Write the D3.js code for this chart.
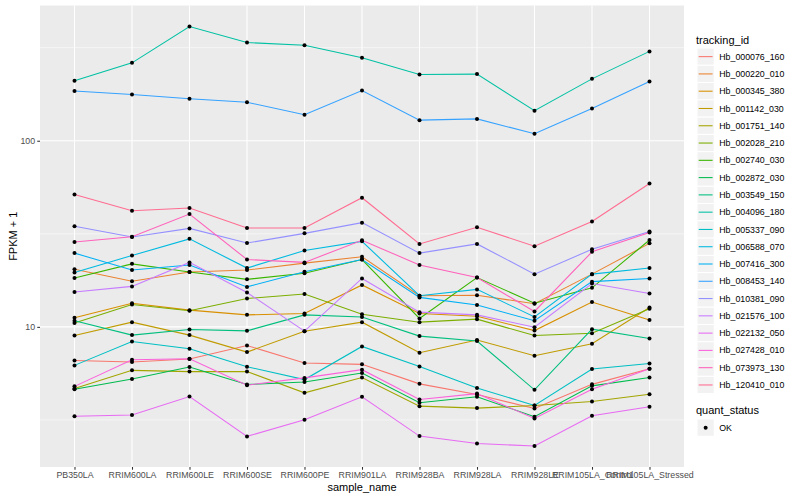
<!DOCTYPE html>
<html>
<head>
<meta charset="utf-8">
<script src="https://cdn.jsdelivr.net/npm/d3@7"></script>
<style>
  body { margin: 0; background: #ffffff; }
  text { font-family: "Liberation Sans", Arial, Helvetica, sans-serif; }
</style>
</head>
<body>
<div id="chart"></div>
<script>
// samples on the x axis, in plot order
const samples = [
  'PB350LA', 'RRIM600LA', 'RRIM600LE', 'RRIM600SE', 'RRIM600PE', 'RRIM901LA',
  'RRIM928BA', 'RRIM928LA', 'RRIM928LE', 'RRIM105LA_Control', 'RRIM105LA_Stressed'
]

const trackingIds = [
  'Hb_000076_160', 'Hb_000220_010', 'Hb_000345_380', 'Hb_001142_030', 'Hb_001751_140',
  'Hb_002028_210', 'Hb_002740_030', 'Hb_002872_030', 'Hb_003549_150', 'Hb_004096_180',
  'Hb_005337_090', 'Hb_006588_070', 'Hb_007416_300', 'Hb_008453_140', 'Hb_010381_090',
  'Hb_021576_100', 'Hb_022132_050', 'Hb_027428_010', 'Hb_073973_130', 'Hb_120410_010'
]

// FPKM + 1, one value per sample
const hb_000076_160 = [6.60, 6.47, 6.72, 7.94, 6.40, 6.29, 4.94, 4.33, 3.64, 4.91, 5.96]
const hb_000220_010 = [20.4, 17.6, 19.7, 20.2, 22.0, 23.8, 14.7, 14.8, 13.3, 19.2, 28.1]
const hb_000345_380 = [11.2, 13.4, 12.3, 11.6, 11.8, 16.8, 11.8, 11.4, 9.55, 13.6, 10.9]
const hb_001142_030 = [8.98, 10.6, 9.03, 7.32, 9.48, 10.6, 7.26, 8.49, 7.00, 8.11, 12.7]
const hb_001751_140 = [4.66, 5.84, 5.75, 5.75, 4.42, 5.34, 3.75, 3.66, 3.78, 3.97, 4.35]
const hb_002028_210 = [10.5, 13.2, 12.2, 14.2, 15.0, 11.7, 10.6, 11.0, 8.98, 9.25, 12.5]
const hb_002740_030 = [18.3, 21.8, 19.7, 18.0, 19.4, 23.0, 11.1, 18.4, 13.4, 16.2, 29.3]
const hb_002872_030 = [4.62, 5.25, 6.09, 4.90, 5.06, 5.65, 3.91, 4.21, 3.29, 4.82, 5.34]
const hb_003549_150 = [10.8, 9.03, 9.67, 9.52, 11.6, 11.3, 8.92, 8.39, 4.59, 9.72, 8.66]
const hb_004096_180 = [210, 262, 411, 337, 326, 279, 227, 228, 145, 215, 302]
const hb_005337_090 = [6.21, 8.34, 7.63, 6.11, 5.21, 7.85, 6.13, 4.70, 3.78, 5.94, 6.36]
const hb_006588_070 = [19.6, 24.2, 29.7, 20.7, 25.7, 28.8, 14.7, 15.9, 11.3, 19.2, 20.7]
const hb_007416_300 = [24.9, 20.2, 21.5, 16.4, 19.8, 23.0, 14.4, 13.1, 10.8, 17.5, 18.2]
const hb_008453_140 = [185, 177, 168, 161, 138, 186, 129, 131, 109, 149, 208]
const hb_010381_090 = [34.7, 30.4, 33.8, 28.2, 31.8, 36.3, 24.9, 27.9, 19.2, 26.1, 32.5]
const hb_021576_100 = [15.4, 16.5, 22.2, 15.3, 9.48, 18.2, 12.0, 11.6, 9.96, 17.1, 15.1]
const hb_022132_050 = [3.31, 3.36, 4.22, 2.58, 3.17, 4.21, 2.59, 2.36, 2.29, 3.33, 3.72]
const hb_027428_010 = [4.79, 6.66, 6.74, 4.86, 5.32, 5.89, 4.07, 4.38, 3.22, 4.62, 5.96]
const hb_073973_130 = [28.6, 30.5, 40.4, 23.0, 22.2, 29.2, 21.5, 18.4, 12.1, 25.3, 32.1]
const hb_120410_010 = [51.4, 42.1, 43.5, 34.0, 34.0, 49.4, 27.9, 34.3, 27.1, 36.8, 58.9]

const seriesValues = [
  hb_000076_160, hb_000220_010, hb_000345_380, hb_001142_030, hb_001751_140,
  hb_002028_210, hb_002740_030, hb_002872_030, hb_003549_150, hb_004096_180,
  hb_005337_090, hb_006588_070, hb_007416_300, hb_008453_140, hb_010381_090,
  hb_021576_100, hb_022132_050, hb_027428_010, hb_073973_130, hb_120410_010
]

const quantStatus = ['OK']

const yMajorTicks = [10, 100]
const yMinorTicks = [3.162, 31.62, 316.2]

// ggplot default hue palette for 20 levels
const colours = [
  '#F8766D', '#EA8331', '#D89000', '#C09B00', '#A3A500', '#7CAE00', '#39B600',
  '#00BB4E', '#00BF7D', '#00C1A3', '#00BFC4', '#00BAE0', '#00B0F6', '#35A2FF',
  '#9590FF', '#C77CFF', '#E76BF3', '#FA62DB', '#FF62BC', '#FF6C91'
]

const width = 800
const height = 500
const panelLeft = 40
const panelRight = 684
const panelTop = 5.5
const panelBottom = 467
const tickLength = 2.74
const legendX = 697
const keySize = 17.28

const svg = d3
  .select('#chart')
  .append('svg')
  .attr('width', width)
  .attr('height', height)

const allValues = seriesValues.flat()
const logMin = Math.log10(d3.min(allValues))
const logMax = Math.log10(d3.max(allValues))
const logPad = (logMax - logMin) * 0.05

const x = d3
  .scalePoint()
  .domain(samples)
  .range([panelLeft, panelRight])
  .padding(0.6)

const y = d3
  .scaleLog()
  .domain([Math.pow(10, logMin - logPad), Math.pow(10, logMax + logPad)])
  .range([panelBottom, panelTop])

// panel background
svg
  .append('rect')
  .attr('x', panelLeft)
  .attr('y', panelTop)
  .attr('width', panelRight - panelLeft)
  .attr('height', panelBottom - panelTop)
  .attr('fill', '#EBEBEB')

svg
  .selectAll('line.minor')
  .data(yMinorTicks)
  .enter()
  .append('line')
  .attr('class', 'minor')
  .attr('x1', panelLeft)
  .attr('x2', panelRight)
  .attr('y1', d => y(d))
  .attr('y2', d => y(d))
  .attr('stroke', '#ffffff')
  .attr('stroke-width', 0.53)

svg
  .selectAll('line.major')
  .data(yMajorTicks)
  .enter()
  .append('line')
  .attr('class', 'major')
  .attr('x1', panelLeft)
  .attr('x2', panelRight)
  .attr('y1', d => y(d))
  .attr('y2', d => y(d))
  .attr('stroke', '#ffffff')
  .attr('stroke-width', 1.07)

svg
  .selectAll('line.xgrid')
  .data(samples)
  .enter()
  .append('line')
  .attr('class', 'xgrid')
  .attr('x1', d => x(d))
  .attr('x2', d => x(d))
  .attr('y1', panelTop)
  .attr('y2', panelBottom)
  .attr('stroke', '#ffffff')
  .attr('stroke-width', 1.07)

// axes
const yAxis = svg
  .append('g')
  .attr('transform', `translate(${panelLeft},0)`)
  .call(
    d3
      .axisLeft(y)
      .tickValues(yMajorTicks)
      .tickFormat(d => `${d}`)
      .tickSize(tickLength)
      .tickPadding(2.2)
  )

const xAxis = svg
  .append('g')
  .attr('transform', `translate(0,${panelBottom})`)
  .call(d3.axisBottom(x).tickSize(tickLength).tickPadding(2.4))

;[xAxis, yAxis].forEach(axis => {
  axis.select('.domain').remove()
  axis.selectAll('.tick line').attr('stroke', '#333333').attr('stroke-width', 1.07)
  axis
    .selectAll('.tick text')
    .attr('fill', '#4D4D4D')
    .attr('font-size', '8.8px')
    .attr('font-family', '"Liberation Sans", Arial, sans-serif')
})

svg
  .append('text')
  .attr('x', (panelLeft + panelRight) / 2)
  .attr('y', 491)
  .attr('text-anchor', 'middle')
  .attr('font-size', '11px')
  .attr('fill', '#000000')
  .text('sample_name')

svg
  .append('text')
  .attr('transform', `translate(17,${(panelTop + panelBottom) / 2}) rotate(-90)`)
  .attr('text-anchor', 'middle')
  .attr('font-size', '11px')
  .attr('fill', '#000000')
  .text('FPKM + 1')

// lines, one per tracking id
const line = d3
  .line()
  .x((d, i) => x(samples[i]))
  .y(d => y(d))

svg
  .selectAll('path.series')
  .data(seriesValues)
  .enter()
  .append('path')
  .attr('class', 'series')
  .attr('d', d => line(d))
  .attr('fill', 'none')
  .attr('stroke', (d, i) => colours[i])
  .attr('stroke-width', 1.07)

const points = []
seriesValues.forEach(values => {
  values.forEach((v, i) => points.push({ sample: samples[i], value: v }))
})

svg
  .selectAll('circle.point')
  .data(points)
  .enter()
  .append('circle')
  .attr('class', 'point')
  .attr('cx', d => x(d.sample))
  .attr('cy', d => y(d.value))
  .attr('r', 2)
  .attr('fill', '#000000')

// legend: tracking_id
svg
  .append('text')
  .attr('x', legendX - 1)
  .attr('y', 44)
  .attr('font-size', '11px')
  .attr('fill', '#000000')
  .text('tracking_id')

const keyTop = 48
const keys = svg
  .selectAll('g.key')
  .data(trackingIds)
  .enter()
  .append('g')
  .attr('class', 'key')
  .attr('transform', (d, i) => `translate(${legendX},${keyTop + i * keySize})`)

keys
  .append('rect')
  .attr('width', keySize)
  .attr('height', keySize)
  .attr('fill', '#F2F2F2')
  .attr('stroke', '#ffffff')
  .attr('stroke-width', 1)

keys
  .append('line')
  .attr('x1', 1.7)
  .attr('x2', keySize - 1.7)
  .attr('y1', keySize / 2)
  .attr('y2', keySize / 2)
  .attr('stroke', (d, i) => colours[i])
  .attr('stroke-width', 1.07)

keys
  .append('text')
  .attr('x', keySize + 5)
  .attr('y', keySize / 2)
  .attr('dy', '0.35em')
  .attr('font-size', '8.8px')
  .attr('fill', '#000000')
  .text(d => d)

// legend: quant_status
svg
  .append('text')
  .attr('x', legendX - 1)
  .attr('y', 414)
  .attr('font-size', '11px')
  .attr('fill', '#000000')
  .text('quant_status')

const statusKeys = svg
  .selectAll('g.status')
  .data(quantStatus)
  .enter()
  .append('g')
  .attr('class', 'status')
  .attr('transform', (d, i) => `translate(${legendX},${419 + i * keySize})`)

statusKeys
  .append('rect')
  .attr('width', keySize)
  .attr('height', keySize)
  .attr('fill', '#F2F2F2')
  .attr('stroke', '#ffffff')
  .attr('stroke-width', 1)

statusKeys
  .append('circle')
  .attr('cx', keySize / 2)
  .attr('cy', keySize / 2)
  .attr('r', 2)
  .attr('fill', '#000000')

statusKeys
  .append('text')
  .attr('x', keySize + 5)
  .attr('y', keySize / 2)
  .attr('dy', '0.35em')
  .attr('font-size', '8.8px')
  .attr('fill', '#000000')
  .text(d => d)
</script>
</body>
</html>
